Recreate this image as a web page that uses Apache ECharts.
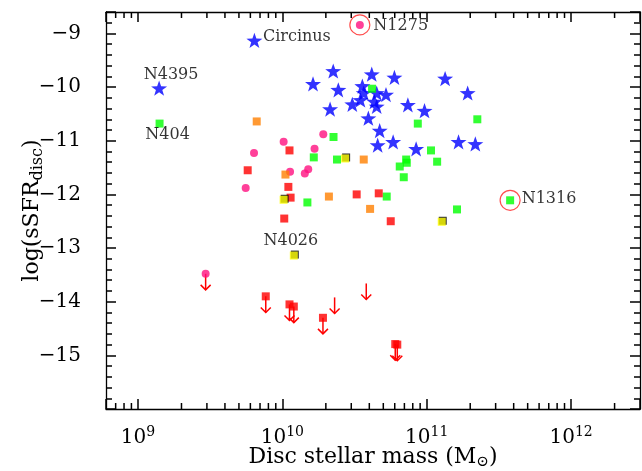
<!DOCTYPE html>
<html>
<head>
<meta charset="utf-8">
<script src="https://cdn.jsdelivr.net/npm/echarts@6/dist/echarts.min.js"></script>
<style>
html,body{margin:0;padding:0;background:#fff;}
#chart{width:642px;height:471px;}
</style>
</head>
<body>
<div id="chart"></div>
<script>
// ---- Data (disc stellar mass in Msun, log sSFR_disc) ----
const starsX = [6.4e9, 1.4e9, 1.63e10, 2.25e10, 2.44e10, 2.14e10, 3.05e10, 3.58e10, 3.66e10, 3.47e10, 4.16e10, 4.5e10, 4.34e10, 4.5e10, 5.22e10, 5.97e10, 3.94e10, 4.72e10, 4.57e10, 5.85e10, 7.4e10, 9.65e10, 8.44e10, 1.34e11, 1.92e11, 1.66e11, 2.17e11];
const starsY = [-9.13, -10.02, -9.94, -9.70, -10.05, -10.41, -10.32, -9.98, -10.11, -10.24, -9.76, -10.11, -10.27, -10.36, -10.14, -9.82, -10.58, -10.81, -11.08, -11.02, -10.33, -10.44, -11.15, -9.84, -10.11, -11.02, -11.06];

const greenX = [1.41e9, 4.18e10, 2.26e10, 1.65e10, 2.39e10, 8.67e10, 2.24e11, 1.07e11, 1.18e11, 7.2e10, 7.27e10, 6.5e10, 6.93e10, 3.78e11, 1.62e11, 1.49e10, 5.28e10];
const greenY = [-10.68, -10.03, -10.93, -11.31, -11.35, -10.68, -10.60, -11.18, -11.39, -11.35, -11.41, -11.48, -11.68, -12.11, -12.28, -12.15, -12.04];

const pinkX = [3.44e10, 1.92e10, 1.02e10, 6.36e9, 1.67e10, 1.13e10, 1.51e10, 1.43e10, 5.57e9];
const pinkY = [-8.84, -10.88, -11.02, -11.23, -11.15, -11.58, -11.53, -11.61, -11.88];
const pinkLimX = [2.94e9];
const pinkLimY = [-13.48];

const orangeX = [6.64e9, 1.05e10, 3.66e10, 2.1e10, 4.05e10];
const orangeY = [-10.64, -11.63, -11.35, -12.04, -12.27];

const redX = [1.12e10, 5.75e9, 1.1e10, 1.14e10, 1.03e10, 3.27e10, 4.65e10, 5.63e10];
const redY = [-11.18, -11.55, -11.86, -12.06, -12.45, -12.00, -11.98, -12.50];
const redLimX = [7.67e9, 1.12e10, 1.2e10, 1.91e10, 6.05e10, 6.25e10];
const redLimY = [-13.90, -14.05, -14.09, -14.30, -14.79, -14.80];
const limOnlyX = [2.3e10, 3.81e10];
const limOnlyY = [-13.92, -13.66];

const yellowX = [2.72e10, 1.02e10, 1.27e11, 1.2e10];
const yellowY = [-11.33, -12.10, -12.51, -13.14];

const ringX = [3.44e10, 3.78e11];
const ringY = [-8.84, -12.11];

const labelNames = ['Circinus', 'N4395', 'N404', 'N1275', 'N1316', 'N4026'];
const labelX = [6.4e9, 1.4e9, 1.41e9, 3.44e10, 3.78e11, 1.2e10];
const labelY = [-9.13, -10.02, -10.68, -8.84, -12.11, -13.14];

const xMinorTicks = [7e8, 8e8, 9e8, 2e9, 3e9, 4e9, 5e9, 6e9, 7e9, 8e9, 9e9, 2e10, 3e10, 4e10, 5e10, 6e10, 7e10, 8e10, 9e10, 2e11, 3e11, 4e11, 5e11, 6e11, 7e11, 8e11, 9e11, 2e12];
const X_MIN = 6e8, X_MAX = 3e12, Y_MIN = -16, Y_MAX = -8.6;

// ---- build ----
const pairs = (xs, ys) => xs.map((x, i) => [x, ys[i]]);
const FONT = 'DejaVu Serif';
const starPath = 'path://M0,-10 L2.35,-3.24 L9.51,-3.09 L3.8,1.24 L5.88,8.09 L0,4 L-5.88,8.09 L-3.8,1.24 L-9.51,-3.09 L-2.35,-3.24 Z';
const ARROW_LEN = 0.3;
const ARROW_COLOR = '#ff0000';
const TICK_W = 1.5;

function arrowRender(params, api) {
  const x = api.value(0), y = api.value(1);
  const p0 = api.coord([x, y]);
  const p1 = api.coord([x, y - ARROW_LEN]);
  return {
    type: 'group',
    children: [
      {type: 'line', shape: {x1: p0[0], y1: p0[1], x2: p1[0], y2: p1[1]}, style: {stroke: ARROW_COLOR, lineWidth: 1.5}},
      {type: 'polyline', shape: {points: [[p1[0] - 5, p1[1] - 5], [p1[0], p1[1]], [p1[0] + 5, p1[1] - 5]]}, style: {stroke: ARROW_COLOR, fill: null, lineWidth: 1.5}}
    ]
  };
}
function minorTickRender(params, api) {
  const v = api.value(0);
  const pb = api.coord([v, Y_MIN]);
  const pt = api.coord([v, Y_MAX]);
  return {
    type: 'group',
    children: [
      {type: 'line', shape: {x1: pb[0], y1: pb[1], x2: pb[0], y2: pb[1] - 6}, style: {stroke: '#000', lineWidth: TICK_W}},
      {type: 'line', shape: {x1: pt[0], y1: pt[1], x2: pt[0], y2: pt[1] + 6}, style: {stroke: '#000', lineWidth: TICK_W}}
    ]
  };
}

const labelStyle = {
  'Circinus': {position: 'right', distance: 8, offset: [0, -4]},
  'N4395': {position: 'top', distance: 5, offset: [12, 0]},
  'N404': {position: 'bottom', distance: 3, offset: [8, 0]},
  'N1275': {position: 'right', distance: 13, offset: [0, 1]},
  'N1316': {position: 'right', distance: 11, offset: [0, -1]},
  'N4026': {position: 'top', distance: 6, offset: [-3, 0]}
};
const labelData = labelNames.map((n, i) => ({
  value: [labelX[i], labelY[i]],
  label: Object.assign({show: true, formatter: n, fontFamily: FONT, fontSize: 16, color: '#000'}, labelStyle[n])
}));

const axisLineStyle = {color: '#000', width: 1.3};
const tickStyle = {show: true, inside: true, length: 10, lineStyle: {color: '#000', width: TICK_W}};
const minorStyle = {show: true, splitNumber: 5, length: 6, lineStyle: {color: '#000', width: TICK_W}};
const isPow10 = v => Math.abs(Math.log10(v) - Math.round(Math.log10(v))) < 1e-6;

const option = {
  animation: false,
  backgroundColor: '#fff',
  grid: {left: 106, right: 2, top: 12, bottom: 62, containLabel: false, outerBoundsMode: 'none'},
  xAxis: [
    {
      type: 'log', logBase: 10, min: X_MIN, max: X_MAX, position: 'bottom',
      axisLine: {lineStyle: axisLineStyle},
      axisTick: tickStyle,
      splitLine: {show: false},
      axisLabel: {
        margin: 16,
        formatter: v => isPow10(v) ? '{b|10}{sup|' + Math.round(Math.log10(v)) + '}' : '',
        rich: {
          b: {fontFamily: FONT, fontSize: 20, color: '#000'},
          sup: {fontFamily: FONT, fontSize: 14, color: '#000', padding: [0, 0, 12, 0]}
        }
      },
      name: 'Disc stellar mass (M{sub|⊙})',
      nameLocation: 'middle', nameGap: 35, nameMoveOverlap: false,
      nameTextStyle: {
        fontFamily: FONT, fontSize: 22, color: '#000',
        rich: {sub: {fontFamily: FONT, fontSize: 15, color: '#000', padding: [11, 0, 0, 0]}}
      }
    },
    {
      type: 'log', logBase: 10, min: X_MIN, max: X_MAX, position: 'top',
      axisLine: {lineStyle: axisLineStyle},
      axisTick: tickStyle,
      axisLabel: {show: false}, splitLine: {show: false}
    }
  ],
  yAxis: [
    {
      type: 'value', min: Y_MIN, max: Y_MAX, interval: 1, position: 'left',
      axisLine: {show: true, lineStyle: axisLineStyle},
      axisTick: tickStyle,
      minorTick: minorStyle,
      splitLine: {show: false},
      axisLabel: {
        margin: 25, showMinLabel: false, fontFamily: FONT, fontSize: 20, color: '#000',
        formatter: v => Number.isInteger(v) ? (v < 0 ? '\u2212' : '') + Math.abs(v) : ''
      },
      name: 'log(sSFR{sub|disc})',
      nameLocation: 'middle', nameGap: 60, nameRotate: 90, nameMoveOverlap: false,
      nameTextStyle: {
        fontFamily: FONT, fontSize: 22, color: '#000',
        rich: {sub: {fontFamily: FONT, fontSize: 16, color: '#000', padding: [11, 0, 0, 0]}}
      }
    },
    {
      type: 'value', min: Y_MIN, max: Y_MAX, interval: 1, position: 'right',
      axisLine: {show: true, lineStyle: axisLineStyle},
      axisTick: tickStyle,
      minorTick: minorStyle,
      splitLine: {show: false}, axisLabel: {show: false}
    }
  ],
  series: [
    {type: 'custom', name: 'xminor', renderItem: minorTickRender, data: xMinorTicks.map(v => [v, Y_MIN]), encode: {x: 0, y: 1}, clip: false, silent: true},
    {type: 'custom', name: 'limits', renderItem: arrowRender, data: pairs(redLimX, redLimY).concat(pairs(limOnlyX, limOnlyY), pairs(pinkLimX, pinkLimY)), encode: {x: 0, y: 1}, z: 2},
    {type: 'scatter', name: 'stars', data: pairs(starsX, starsY), symbol: starPath, symbolSize: 16, symbolKeepAspect: true, itemStyle: {color: '#0000ff'}, z: 3},
    {type: 'scatter', name: 'green', data: pairs(greenX, greenY), symbol: 'rect', symbolSize: 8, itemStyle: {color: '#00ff00'}, z: 4},
    {type: 'scatter', name: 'pink', data: pairs(pinkX, pinkY).concat(pairs(pinkLimX, pinkLimY)), symbol: 'circle', symbolSize: 8, itemStyle: {color: '#ff1080'}, z: 4},
    {type: 'scatter', name: 'orange', data: pairs(orangeX, orangeY), symbol: 'rect', symbolSize: 8, itemStyle: {color: '#ff8000'}, z: 4},
    {type: 'scatter', name: 'red', data: pairs(redX, redY).concat(pairs(redLimX, redLimY)), symbol: 'rect', symbolSize: 8, itemStyle: {color: '#ff0000'}, z: 4},
    {type: 'scatter', name: 'yellowEdge', data: pairs(yellowX, yellowY), symbol: 'rect', symbolSize: 8, symbolOffset: [1, -1], itemStyle: {color: '#000'}, z: 4},
    {type: 'scatter', name: 'yellow', data: pairs(yellowX, yellowY), symbol: 'rect', symbolSize: 8, itemStyle: {color: '#ffff00'}, z: 5},
    {type: 'scatter', name: 'rings', data: pairs(ringX, ringY), symbol: 'circle', symbolSize: 20, itemStyle: {color: 'rgba(0,0,0,0)', borderColor: '#ff2020', borderWidth: 1.2}, z: 5},
    {type: 'scatter', name: 'labels', data: labelData, symbol: 'circle', symbolSize: 1, itemStyle: {color: 'rgba(0,0,0,0)'}, z: 6}
  ]
};

const chart = echarts.init(document.getElementById('chart'), null, {renderer: 'canvas'});
chart.setOption(option);
</script>
</body>
</html>
